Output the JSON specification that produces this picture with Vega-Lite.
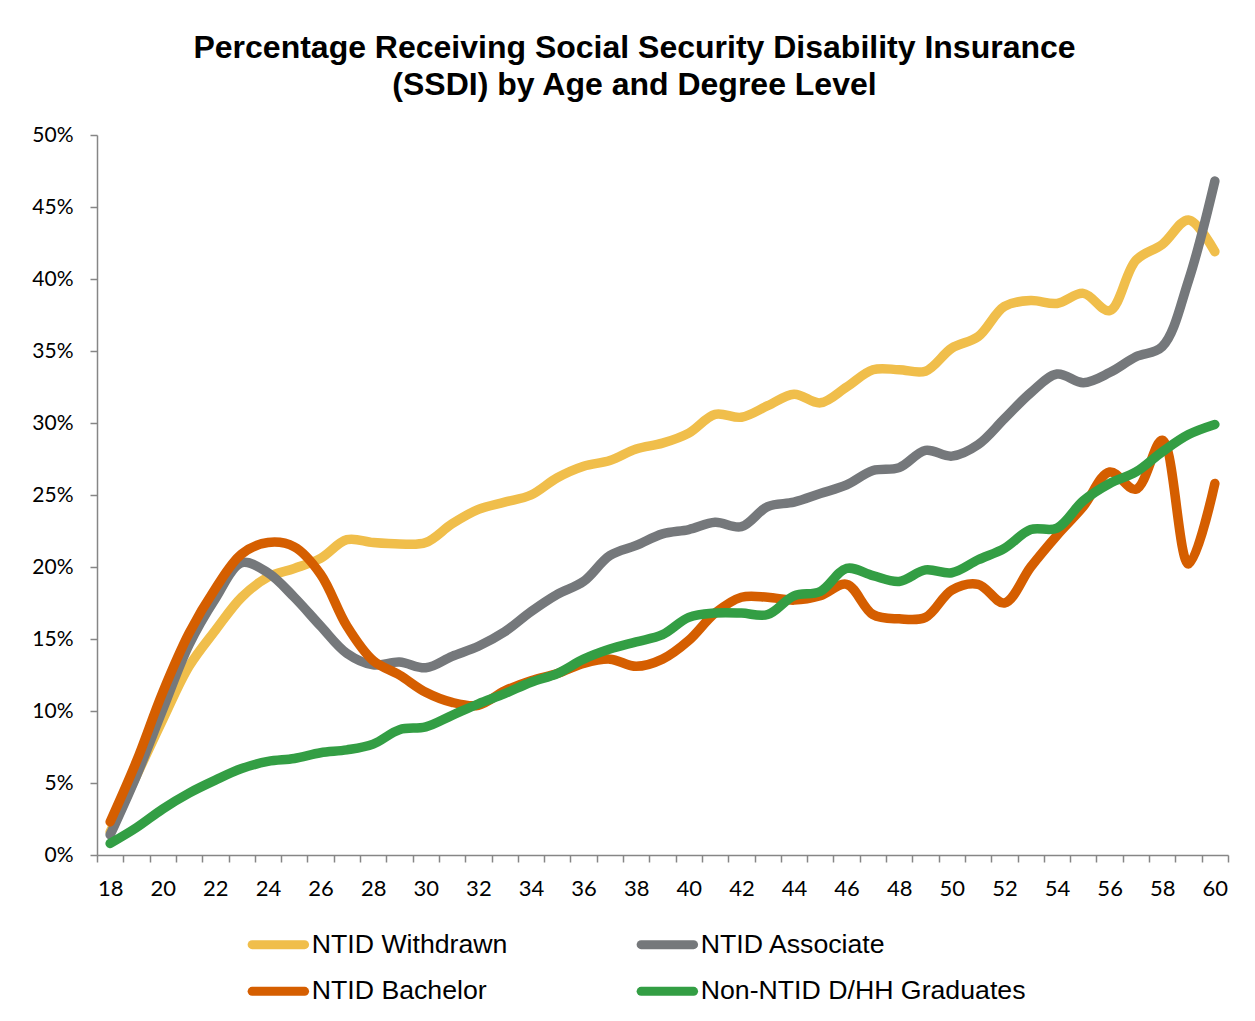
{
  "$schema": "https://vega.github.io/schema/vega-lite/v6.json",
  "width": 1131,
  "height": 720,
  "autosize": {"type": "none"},
  "padding": {"left": 97, "top": 135, "right": 27, "bottom": 166},
  "background": "white",
  "config": {"view": {"stroke": null}},
  "title": {
    "text": ["Percentage Receiving Social Security Disability Insurance", "(SSDI) by Age and Degree Level"],
    "font": "Liberation Sans", "fontSize": 32, "fontWeight": "bold", "color": "#000000",
    "anchor": "middle", "frame": "group", "dx": -28, "offset": -10, "lineHeight": 37, "baseline": "bottom"
  },
  "data": {"values": [
    {"age": 18, "NTID Withdrawn": 1.6, "NTID Associate": 1.4, "NTID Bachelor": 2.3, "Non-NTID D/HH Graduates": 0.8},
    {"age": 19, "NTID Withdrawn": 5.5, "NTID Associate": 5.5, "NTID Bachelor": 6.5, "Non-NTID D/HH Graduates": 1.9},
    {"age": 20, "NTID Withdrawn": 9.4, "NTID Associate": 10.1, "NTID Bachelor": 11.3, "Non-NTID D/HH Graduates": 3.2},
    {"age": 21, "NTID Withdrawn": 13.1, "NTID Associate": 14.6, "NTID Bachelor": 15.4, "Non-NTID D/HH Graduates": 4.3},
    {"age": 22, "NTID Withdrawn": 15.6, "NTID Associate": 17.8, "NTID Bachelor": 18.5, "Non-NTID D/HH Graduates": 5.2},
    {"age": 23, "NTID Withdrawn": 17.9, "NTID Associate": 20.3, "NTID Bachelor": 20.9, "Non-NTID D/HH Graduates": 6.0},
    {"age": 24, "NTID Withdrawn": 19.3, "NTID Associate": 19.6, "NTID Bachelor": 21.7, "Non-NTID D/HH Graduates": 6.5},
    {"age": 25, "NTID Withdrawn": 19.9, "NTID Associate": 17.9, "NTID Bachelor": 21.4, "Non-NTID D/HH Graduates": 6.7},
    {"age": 26, "NTID Withdrawn": 20.6, "NTID Associate": 15.9, "NTID Bachelor": 19.5, "Non-NTID D/HH Graduates": 7.1},
    {"age": 27, "NTID Withdrawn": 21.9, "NTID Associate": 14.0, "NTID Bachelor": 15.9, "Non-NTID D/HH Graduates": 7.3},
    {"age": 28, "NTID Withdrawn": 21.7, "NTID Associate": 13.2, "NTID Bachelor": 13.5, "Non-NTID D/HH Graduates": 7.7},
    {"age": 29, "NTID Withdrawn": 21.6, "NTID Associate": 13.4, "NTID Bachelor": 12.5, "Non-NTID D/HH Graduates": 8.7},
    {"age": 30, "NTID Withdrawn": 21.7, "NTID Associate": 13.0, "NTID Bachelor": 11.3, "Non-NTID D/HH Graduates": 8.9},
    {"age": 31, "NTID Withdrawn": 23.0, "NTID Associate": 13.8, "NTID Bachelor": 10.6, "Non-NTID D/HH Graduates": 9.7},
    {"age": 32, "NTID Withdrawn": 24.0, "NTID Associate": 14.5, "NTID Bachelor": 10.4, "Non-NTID D/HH Graduates": 10.5},
    {"age": 33, "NTID Withdrawn": 24.5, "NTID Associate": 15.5, "NTID Bachelor": 11.4, "Non-NTID D/HH Graduates": 11.2},
    {"age": 34, "NTID Withdrawn": 25.0, "NTID Associate": 16.9, "NTID Bachelor": 12.1, "Non-NTID D/HH Graduates": 12.0},
    {"age": 35, "NTID Withdrawn": 26.2, "NTID Associate": 18.1, "NTID Bachelor": 12.6, "Non-NTID D/HH Graduates": 12.6},
    {"age": 36, "NTID Withdrawn": 27.0, "NTID Associate": 19.0, "NTID Bachelor": 13.3, "Non-NTID D/HH Graduates": 13.6},
    {"age": 37, "NTID Withdrawn": 27.4, "NTID Associate": 20.8, "NTID Bachelor": 13.6, "Non-NTID D/HH Graduates": 14.3},
    {"age": 38, "NTID Withdrawn": 28.2, "NTID Associate": 21.5, "NTID Bachelor": 13.1, "Non-NTID D/HH Graduates": 14.8},
    {"age": 39, "NTID Withdrawn": 28.6, "NTID Associate": 22.3, "NTID Bachelor": 13.6, "Non-NTID D/HH Graduates": 15.3},
    {"age": 40, "NTID Withdrawn": 29.3, "NTID Associate": 22.6, "NTID Bachelor": 14.9, "Non-NTID D/HH Graduates": 16.5},
    {"age": 41, "NTID Withdrawn": 30.6, "NTID Associate": 23.1, "NTID Bachelor": 16.8, "Non-NTID D/HH Graduates": 16.8},
    {"age": 42, "NTID Withdrawn": 30.4, "NTID Associate": 22.8, "NTID Bachelor": 17.9, "Non-NTID D/HH Graduates": 16.8},
    {"age": 43, "NTID Withdrawn": 31.2, "NTID Associate": 24.2, "NTID Bachelor": 17.9, "Non-NTID D/HH Graduates": 16.7},
    {"age": 44, "NTID Withdrawn": 32.0, "NTID Associate": 24.5, "NTID Bachelor": 17.7, "Non-NTID D/HH Graduates": 18.0},
    {"age": 45, "NTID Withdrawn": 31.4, "NTID Associate": 25.1, "NTID Bachelor": 18.0, "Non-NTID D/HH Graduates": 18.3},
    {"age": 46, "NTID Withdrawn": 32.5, "NTID Associate": 25.7, "NTID Bachelor": 18.8, "Non-NTID D/HH Graduates": 19.9},
    {"age": 47, "NTID Withdrawn": 33.7, "NTID Associate": 26.7, "NTID Bachelor": 16.7, "Non-NTID D/HH Graduates": 19.4},
    {"age": 48, "NTID Withdrawn": 33.7, "NTID Associate": 26.9, "NTID Bachelor": 16.4, "Non-NTID D/HH Graduates": 19.0},
    {"age": 49, "NTID Withdrawn": 33.6, "NTID Associate": 28.1, "NTID Bachelor": 16.5, "Non-NTID D/HH Graduates": 19.8},
    {"age": 50, "NTID Withdrawn": 35.2, "NTID Associate": 27.7, "NTID Bachelor": 18.4, "Non-NTID D/HH Graduates": 19.6},
    {"age": 51, "NTID Withdrawn": 36.0, "NTID Associate": 28.5, "NTID Bachelor": 18.8, "Non-NTID D/HH Graduates": 20.5},
    {"age": 52, "NTID Withdrawn": 38.1, "NTID Associate": 30.3, "NTID Bachelor": 17.5, "Non-NTID D/HH Graduates": 21.3},
    {"age": 53, "NTID Withdrawn": 38.5, "NTID Associate": 32.1, "NTID Bachelor": 20.0, "Non-NTID D/HH Graduates": 22.6},
    {"age": 54, "NTID Withdrawn": 38.3, "NTID Associate": 33.4, "NTID Bachelor": 22.2, "Non-NTID D/HH Graduates": 22.7},
    {"age": 55, "NTID Withdrawn": 39.0, "NTID Associate": 32.8, "NTID Bachelor": 24.2, "Non-NTID D/HH Graduates": 24.6},
    {"age": 56, "NTID Withdrawn": 37.8, "NTID Associate": 33.5, "NTID Bachelor": 26.6, "Non-NTID D/HH Graduates": 25.8},
    {"age": 57, "NTID Withdrawn": 41.3, "NTID Associate": 34.6, "NTID Bachelor": 25.4, "Non-NTID D/HH Graduates": 26.6},
    {"age": 58, "NTID Withdrawn": 42.4, "NTID Associate": 35.3, "NTID Bachelor": 28.8, "Non-NTID D/HH Graduates": 28.0},
    {"age": 59, "NTID Withdrawn": 44.1, "NTID Associate": 39.9, "NTID Bachelor": 20.2, "Non-NTID D/HH Graduates": 29.2},
    {"age": 60, "NTID Withdrawn": 41.9, "NTID Associate": 46.8, "NTID Bachelor": 25.8, "Non-NTID D/HH Graduates": 29.9}
  ]},
  "transform": [
    {"fold": ["NTID Withdrawn", "NTID Associate", "NTID Bachelor", "Non-NTID D/HH Graduates"], "as": ["series", "pct"]}
  ],
  "mark": {"type": "line", "interpolate": "catmull-rom", "strokeWidth": 9.5, "strokeCap": "round", "strokeJoin": "round"},
  "encoding": {
    "x": {
      "field": "age", "type": "quantitative",
      "scale": {"domain": [17.5, 60.5], "nice": false, "zero": false},
      "axis": {
        "title": null,
        "values": [17.5,18,18.5,19,19.5,20,20.5,21,21.5,22,22.5,23,23.5,24,24.5,25,25.5,26,26.5,27,27.5,28,28.5,29,29.5,30,30.5,31,31.5,32,32.5,33,33.5,34,34.5,35,35.5,36,36.5,37,37.5,38,38.5,39,39.5,40,40.5,41,41.5,42,42.5,43,43.5,44,44.5,45,45.5,46,46.5,47,47.5,48,48.5,49,49.5,50,50.5,51,51.5,52,52.5,53,53.5,54,54.5,55,55.5,56,56.5,57,57.5,58,58.5,59,59.5,60,60.5],
        "labelExpr": "datum.value % 2 === 0 ? datum.value : ''",
        "tickOpacity": {"condition": {"test": "datum.value % 1 === 0", "value": 0}, "value": 1},
        "tickSize": 7, "tickColor": "#868686", "tickWidth": 1.5,
        "domainColor": "#868686", "domainWidth": 1.5,
        "labelFont": "Lato", "labelFontSize": 22, "labelColor": "#000000",
        "labelPadding": 16, "labelOverlap": false, "labelFlush": false, "grid": false
      }
    },
    "y": {
      "field": "pct", "type": "quantitative",
      "scale": {"domain": [0, 50], "nice": false},
      "axis": {
        "title": null,
        "values": [0, 5, 10, 15, 20, 25, 30, 35, 40, 45, 50],
        "labelExpr": "datum.value + '%'",
        "tickSize": 7, "tickColor": "#868686", "tickWidth": 1.5,
        "domainColor": "#868686", "domainWidth": 1.5,
        "labelFont": "Lato", "labelFontSize": 21, "labelColor": "#000000",
        "labelPadding": 17, "labelOverlap": false, "grid": false
      }
    },
    "color": {
      "field": "series", "type": "nominal",
      "scale": {
        "domain": ["NTID Withdrawn", "NTID Associate", "NTID Bachelor", "Non-NTID D/HH Graduates"],
        "range": ["#F0BE4B", "#75787B", "#D55E00", "#339E44"]
      },
      "legend": {
        "title": null, "orient": "none", "legendX": 168, "legendY": 796,
        "direction": "horizontal", "columns": 2, "padding": 0,
        "symbolType": "M-5,0H5", "symbolSize": 110, "symbolStrokeWidth": 9,
        "labelFont": "Liberation Sans", "labelFontSize": 26.7, "labelColor": "#000000",
        "labelOffset": 20, "labelLimit": 600, "columnPadding": 115, "rowPadding": 10,
        "encode": {"symbols": {"update": {"strokeCap": {"value": "round"}}}}
      }
    }
  }
}
